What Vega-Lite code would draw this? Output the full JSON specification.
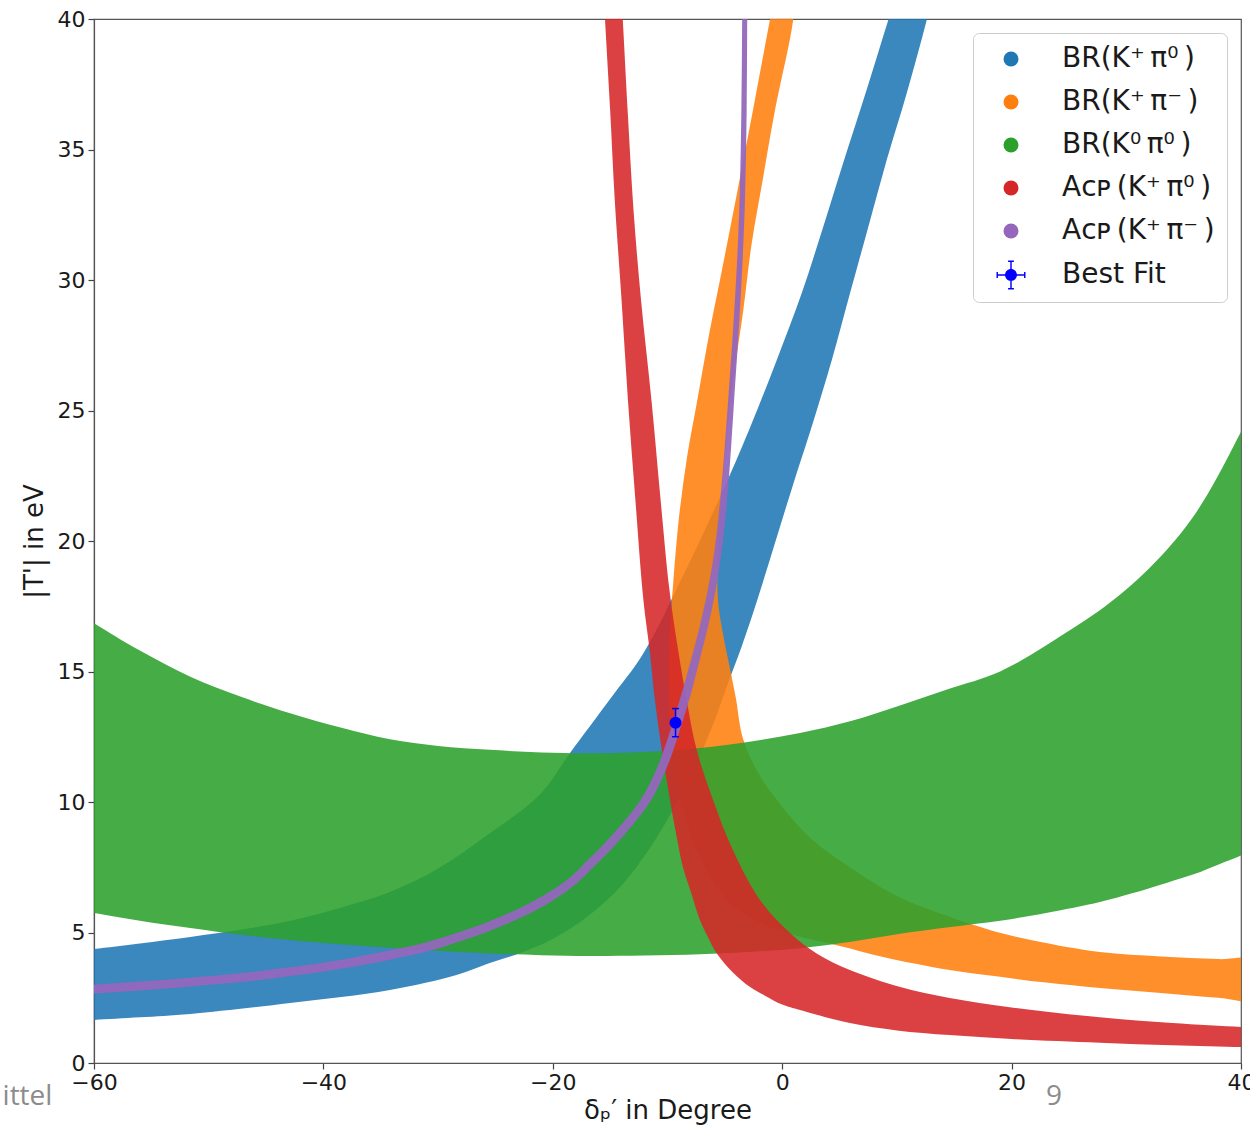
{
  "$schema": "https://vega.github.io/schema/vega-lite/v6.json",
  "width": 1147,
  "height": 1044,
  "autosize": {"type": "none"},
  "padding": {"left": 94, "top": 19, "right": 9, "bottom": 64},
  "background": "white",
  "config": {
    "view": {"stroke": "#555555", "strokeWidth": 1.2},
    "font": "DejaVu Sans",
    "axis": {
      "labelFont": "DejaVu Sans", "labelFontSize": 22, "labelColor": "#1a1a1a",
      "titleFont": "DejaVu Sans", "titleFontSize": 26, "titleFontWeight": "normal", "titleColor": "#1a1a1a",
      "tickSize": 6, "tickColor": "#444444", "tickWidth": 1.2,
      "domainColor": "#555555", "domainWidth": 1.2, "grid": false, "labelPadding": 3
    },
    "axisX": {"titlePadding": 4},
    "axisY": {"titlePadding": 10}
  },
  "datasets": {
    "blue": [
      {"i":1,"x":-62,"y":4.28},{"i":2,"x":-60,"y":4.37},{"i":3,"x":-56,"y":4.58},{"i":4,"x":-51.6,"y":4.83},
      {"i":5,"x":-47,"y":5.12},{"i":6,"x":-42.9,"y":5.45},{"i":7,"x":-38.5,"y":5.95},{"i":8,"x":-34.2,"y":6.55},
      {"i":9,"x":-30,"y":7.45},{"i":10,"x":-25.5,"y":8.8},{"i":11,"x":-21.1,"y":10.3},{"i":12,"x":-18.5,"y":11.88},
      {"i":13,"x":-15,"y":13.95},{"i":14,"x":-12.1,"y":15.7},{"i":15,"x":-8.5,"y":18.8},{"i":16,"x":-4.84,"y":22.25},
      {"i":17,"x":-2.66,"y":24.5},{"i":18,"x":-0.48,"y":26.93},{"i":19,"x":1.7,"y":29.49},{"i":20,"x":3.58,"y":32.04},
      {"i":21,"x":5.33,"y":34.5},{"i":22,"x":7.37,"y":37.3},{"i":23,"x":9.25,"y":39.96},{"i":24,"x":11,"y":42.4},
      {"i":25,"x":13.9,"y":42.4},{"i":26,"x":12.6,"y":39.96},{"i":27,"x":10.85,"y":37.15},{"i":28,"x":9.11,"y":34.6},
      {"i":29,"x":7.51,"y":32.04},{"i":30,"x":5.91,"y":29.49},{"i":31,"x":4.32,"y":26.93},{"i":32,"x":2.57,"y":24.38},
      {"i":33,"x":0.94,"y":22.15},{"i":34,"x":-2.2,"y":17.7},{"i":35,"x":-3.5,"y":16.0},{"i":36,"x":-4.6,"y":14.7},
      {"i":37,"x":-6,"y":13.0},{"i":38,"x":-8,"y":11.0},{"i":39,"x":-11,"y":8.6},{"i":40,"x":-14,"y":6.8},
      {"i":41,"x":-17,"y":5.6},{"i":42,"x":-20,"y":4.75},{"i":43,"x":-22.6,"y":4.25},{"i":44,"x":-25.5,"y":3.83},
      {"i":45,"x":-28.4,"y":3.37},{"i":46,"x":-34.2,"y":2.8},{"i":47,"x":-42.9,"y":2.3},{"i":48,"x":-51.6,"y":1.88},
      {"i":49,"x":-56,"y":1.75},{"i":50,"x":-60,"y":1.65},{"i":51,"x":-62,"y":1.6}
    ],
    "orange": [
      {"i":1,"x":1.3,"y":42},{"i":2,"x":0.97,"y":40},{"i":3,"x":-0.63,"y":36.5},{"i":4,"x":-1.65,"y":33.96},
      {"i":5,"x":-2.66,"y":31.4},{"i":6,"x":-3.39,"y":28.85},{"i":7,"x":-4.5,"y":25.4},{"i":8,"x":-5.3,"y":21.6},
      {"i":9,"x":-5.6,"y":19.5},{"i":10,"x":-5.6,"y":17.74},{"i":11,"x":-5.1,"y":16.3},{"i":12,"x":-4.5,"y":15.0},
      {"i":13,"x":-4.05,"y":14.0},{"i":14,"x":-3.4,"y":12.4},{"i":15,"x":-2.0,"y":11.05},{"i":16,"x":-0.45,"y":10.08},
      {"i":17,"x":2.5,"y":8.6},{"i":18,"x":5.9,"y":7.5},{"i":19,"x":10,"y":6.4},{"i":20,"x":14.6,"y":5.6},
      {"i":21,"x":18.1,"y":5.1},{"i":22,"x":22,"y":4.68},{"i":23,"x":27.7,"y":4.25},{"i":24,"x":33,"y":4.08},
      {"i":25,"x":38,"y":3.98},{"i":26,"x":42,"y":3.92},
      {"i":27,"x":42,"y":2.42},{"i":28,"x":38,"y":2.5},{"i":29,"x":33,"y":2.68},{"i":30,"x":27.7,"y":2.87},
      {"i":31,"x":23,"y":3.08},{"i":32,"x":19,"y":3.3},{"i":33,"x":14.6,"y":3.56},{"i":34,"x":8.8,"y":4.06},
      {"i":35,"x":5.3,"y":4.45},{"i":36,"x":0.7,"y":4.95},{"i":37,"x":-3,"y":5.6},{"i":38,"x":-5.5,"y":6.6},
      {"i":39,"x":-7.5,"y":8.2},{"i":40,"x":-8.8,"y":10},{"i":41,"x":-9.6,"y":12},{"i":42,"x":-9.9,"y":14.5},
      {"i":43,"x":-9.8,"y":16.5},{"i":44,"x":-9.5,"y":18.4},{"i":45,"x":-9.0,"y":20.9},{"i":46,"x":-8.3,"y":23.2},
      {"i":47,"x":-7.4,"y":25.4},{"i":48,"x":-6.35,"y":27.97},{"i":49,"x":-5.2,"y":30.5},{"i":50,"x":-3.95,"y":33.3},
      {"i":51,"x":-2.55,"y":36.5},{"i":52,"x":-1.06,"y":40},{"i":53,"x":-0.2,"y":42}
    ],
    "green": [
      {"i":1,"x":-62,"y":17.4},{"i":2,"x":-60,"y":16.85},{"i":3,"x":-56,"y":15.8},{"i":4,"x":-51.6,"y":14.8},
      {"i":5,"x":-47,"y":14.0},{"i":6,"x":-42.9,"y":13.4},{"i":7,"x":-38.5,"y":12.85},{"i":8,"x":-34.2,"y":12.4},
      {"i":9,"x":-30,"y":12.15},{"i":10,"x":-25.5,"y":12.0},{"i":11,"x":-21,"y":11.9},{"i":12,"x":-16.8,"y":11.87},
      {"i":13,"x":-12,"y":11.92},{"i":14,"x":-7.17,"y":12.07},{"i":15,"x":-3,"y":12.3},{"i":16,"x":1.55,"y":12.64},
      {"i":17,"x":6,"y":13.1},{"i":18,"x":10.27,"y":13.7},{"i":19,"x":14.5,"y":14.33},{"i":20,"x":19,"y":15.0},
      {"i":21,"x":24.8,"y":16.5},{"i":22,"x":29.2,"y":17.85},{"i":23,"x":33.5,"y":19.65},{"i":24,"x":36.4,"y":21.3},
      {"i":25,"x":39.9,"y":24.1},{"i":26,"x":41,"y":25.1},
      {"i":27,"x":41,"y":8.15},{"i":28,"x":40,"y":7.95},{"i":29,"x":38,"y":7.6},{"i":30,"x":36,"y":7.25},
      {"i":31,"x":33.5,"y":6.9},{"i":32,"x":30.5,"y":6.5},{"i":33,"x":27.7,"y":6.17},{"i":34,"x":23,"y":5.75},
      {"i":35,"x":19,"y":5.45},{"i":36,"x":14.5,"y":5.2},{"i":37,"x":10.27,"y":4.95},{"i":38,"x":6,"y":4.65},
      {"i":39,"x":1.55,"y":4.4},{"i":40,"x":-3,"y":4.25},{"i":41,"x":-7.17,"y":4.17},{"i":42,"x":-12,"y":4.12},
      {"i":43,"x":-16.8,"y":4.1},{"i":44,"x":-21,"y":4.13},{"i":45,"x":-25.5,"y":4.2},{"i":46,"x":-30,"y":4.3},
      {"i":47,"x":-34.2,"y":4.42},{"i":48,"x":-38.5,"y":4.55},{"i":49,"x":-42.9,"y":4.71},{"i":50,"x":-47,"y":4.9},
      {"i":51,"x":-51.6,"y":5.17},{"i":52,"x":-56,"y":5.45},{"i":53,"x":-60,"y":5.75},{"i":54,"x":-62,"y":5.9}
    ],
    "red": [
      {"i":1,"x":-14.15,"y":42},{"i":2,"x":-13.9,"y":40},{"i":3,"x":-13.45,"y":36.3},{"i":4,"x":-12.95,"y":32.6},
      {"i":5,"x":-12.3,"y":29.2},{"i":6,"x":-11.4,"y":25.4},{"i":7,"x":-10.6,"y":21.57},{"i":8,"x":-9.85,"y":18.2},
      {"i":9,"x":-9.1,"y":15.9},{"i":10,"x":-8.33,"y":13.9},{"i":11,"x":-7.46,"y":12.0},{"i":12,"x":-6.03,"y":10.08},
      {"i":13,"x":-4.3,"y":8.16},{"i":14,"x":-1.94,"y":6.25},{"i":15,"x":0.68,"y":4.98},{"i":16,"x":3.0,"y":4.2},
      {"i":17,"x":5.9,"y":3.56},{"i":18,"x":10.3,"y":2.91},{"i":19,"x":14.6,"y":2.49},{"i":20,"x":20,"y":2.13},
      {"i":21,"x":27.7,"y":1.75},{"i":22,"x":34,"y":1.53},{"i":23,"x":40,"y":1.38},{"i":24,"x":42,"y":1.34},
      {"i":25,"x":42,"y":0.58},{"i":26,"x":40,"y":0.61},{"i":27,"x":34,"y":0.68},{"i":28,"x":27.7,"y":0.78},
      {"i":29,"x":20,"y":0.92},{"i":30,"x":14.6,"y":1.07},{"i":31,"x":10,"y":1.25},{"i":32,"x":5.9,"y":1.53},
      {"i":33,"x":1.55,"y":2.03},{"i":34,"x":0,"y":2.24},{"i":35,"x":-1.5,"y":2.58},{"i":36,"x":-2.8,"y":2.91},
      {"i":37,"x":-4.3,"y":3.47},{"i":38,"x":-5.7,"y":4.2},{"i":39,"x":-6.5,"y":4.85},{"i":40,"x":-7.17,"y":5.48},
      {"i":41,"x":-8.0,"y":6.6},{"i":42,"x":-8.65,"y":7.5},{"i":43,"x":-9.3,"y":8.9},{"i":44,"x":-9.78,"y":10.08},
      {"i":45,"x":-10.5,"y":12.0},{"i":46,"x":-11.1,"y":13.9},{"i":47,"x":-11.55,"y":15.8},{"i":48,"x":-12.1,"y":17.74},
      {"i":49,"x":-12.8,"y":21.57},{"i":50,"x":-13.45,"y":25.4},{"i":51,"x":-14.0,"y":29.2},{"i":52,"x":-14.6,"y":33.07},
      {"i":53,"x":-15.0,"y":36.5},{"i":54,"x":-15.45,"y":40},{"i":55,"x":-15.7,"y":42}
    ],
    "purple": [
      {"i":1,"x":-62.02,"y":2.95},{"i":2,"x":-60.02,"y":3.0},{"i":3,"x":-56.02,"y":3.12},{"i":4,"x":-51.62,"y":3.27},
      {"i":5,"x":-47.04,"y":3.45},{"i":6,"x":-42.95,"y":3.67},{"i":7,"x":-38.56,"y":3.95},{"i":8,"x":-34.28,"y":4.31},
      {"i":9,"x":-31.1,"y":4.62},{"i":10,"x":-28.53,"y":4.96},{"i":11,"x":-25.64,"y":5.41},{"i":12,"x":-22.77,"y":5.96},
      {"i":13,"x":-20.5,"y":6.5},{"i":14,"x":-18.45,"y":7.13},{"i":15,"x":-17.08,"y":7.72},{"i":16,"x":-15.28,"y":8.52},
      {"i":17,"x":-13.6,"y":9.36},{"i":18,"x":-12.33,"y":10.1},{"i":19,"x":-11.35,"y":10.88},{"i":20,"x":-10.47,"y":11.81},
      {"i":21,"x":-9.67,"y":12.85},{"i":22,"x":-8.78,"y":14.15},{"i":23,"x":-7.95,"y":15.44},{"i":24,"x":-7.24,"y":16.64},
      {"i":25,"x":-6.53,"y":18.03},{"i":26,"x":-5.91,"y":19.62},{"i":27,"x":-5.4,"y":21.61},{"i":28,"x":-5.03,"y":23.5},
      {"i":29,"x":-4.71,"y":25.4},{"i":30,"x":-4.3,"y":28},{"i":31,"x":-3.96,"y":30.5},{"i":32,"x":-3.72,"y":33},
      {"i":33,"x":-3.56,"y":36.5},{"i":34,"x":-3.49,"y":40},{"i":35,"x":-3.47,"y":42},
      {"i":36,"x":-3.03,"y":42},{"i":37,"x":-3.05,"y":40},{"i":38,"x":-3.1,"y":36.5},{"i":39,"x":-3.25,"y":33},
      {"i":40,"x":-3.48,"y":30.5},{"i":41,"x":-3.8,"y":28},{"i":42,"x":-4.19,"y":25.4},{"i":43,"x":-4.47,"y":23.5},
      {"i":44,"x":-4.8,"y":21.59},{"i":45,"x":-5.29,"y":19.58},{"i":46,"x":-5.87,"y":17.97},{"i":47,"x":-6.56,"y":16.56},
      {"i":48,"x":-7.25,"y":15.36},{"i":49,"x":-8.02,"y":14.05},{"i":50,"x":-8.93,"y":12.75},{"i":51,"x":-9.73,"y":11.69},
      {"i":52,"x":-10.65,"y":10.72},{"i":53,"x":-11.67,"y":9.9},{"i":54,"x":-13.0,"y":9.14},{"i":55,"x":-14.72,"y":8.28},
      {"i":56,"x":-16.52,"y":7.48},{"i":57,"x":-17.95,"y":6.87},{"i":58,"x":-20.1,"y":6.2},{"i":59,"x":-22.43,"y":5.64},
      {"i":60,"x":-25.36,"y":5.09},{"i":61,"x":-28.27,"y":4.64},{"i":62,"x":-30.9,"y":4.28},{"i":63,"x":-34.12,"y":3.97},
      {"i":64,"x":-38.44,"y":3.61},{"i":65,"x":-42.85,"y":3.33},{"i":66,"x":-46.96,"y":3.11},{"i":67,"x":-51.58,"y":2.93},
      {"i":68,"x":-55.98,"y":2.78},{"i":69,"x":-59.98,"y":2.66},{"i":70,"x":-61.98,"y":2.61}
    ],
    "fit": [
      {"s":"Best Fit","x":-9.3,"y":13.04,"xLow":-9.55,"xHigh":-9.05,"yLow":12.5,"yHigh":13.58}
    ],
    "footer": [
      {"t":"ittel","x":-65.8,"y":-1.32},
      {"t":"9","x":23.7,"y":-1.32}
    ]
  },
  "encoding": {
    "x": {"field": "x", "type": "quantitative",
      "scale": {"domain": [-60, 40], "nice": false, "zero": false},
      "axis": {"values": [-60, -40, -20, 0, 20, 40], "title": "δₚ′ in Degree", "labelFlush": false, "labelOverlap": false}},
    "y": {"field": "y", "type": "quantitative",
      "scale": {"domain": [0, 40], "nice": false, "zero": false},
      "axis": {"values": [0, 5, 10, 15, 20, 25, 30, 35, 40], "title": "|T'| in eV", "labelFlush": false, "labelOverlap": false}}
  },
  "layer": [
    {"data": {"name": "blue"},
     "mark": {"type": "line", "filled": true, "color": "#1f77b4", "opacity": 0.88, "strokeWidth": 0, "clip": true, "interpolate": "catmull-rom"},
     "encoding": {"order": {"field": "i", "type": "quantitative"}}},
    {"data": {"name": "orange"},
     "mark": {"type": "line", "filled": true, "color": "#ff7f0e", "opacity": 0.88, "strokeWidth": 0, "clip": true, "interpolate": "catmull-rom"},
     "encoding": {"order": {"field": "i", "type": "quantitative"}}},
    {"data": {"name": "green"},
     "mark": {"type": "line", "filled": true, "color": "#2ca02c", "opacity": 0.88, "strokeWidth": 0, "clip": true, "interpolate": "catmull-rom"},
     "encoding": {"order": {"field": "i", "type": "quantitative"}}},
    {"data": {"name": "red"},
     "mark": {"type": "line", "filled": true, "color": "#d62728", "opacity": 0.88, "strokeWidth": 0, "clip": true, "interpolate": "catmull-rom"},
     "encoding": {"order": {"field": "i", "type": "quantitative"}}},
    {"data": {"name": "purple"},
     "mark": {"type": "line", "filled": true, "color": "#9467bd", "opacity": 0.95, "strokeWidth": 0, "clip": true, "interpolate": "catmull-rom"},
     "encoding": {"order": {"field": "i", "type": "quantitative"}}},
    {"data": {"name": "fit"},
     "mark": {"type": "rule", "color": "#0000ff", "strokeWidth": 1.5},
     "encoding": {"y": {"field": "yLow", "type": "quantitative", "title": "|T'| in eV"}, "y2": {"field": "yHigh"}}},
    {"data": {"name": "fit"},
     "mark": {"type": "rule", "color": "#0000ff", "strokeWidth": 1.5},
     "encoding": {"x": {"field": "xLow", "type": "quantitative", "title": "δₚ′ in Degree"}, "x2": {"field": "xHigh"}}},
    {"data": {"name": "fit"},
     "mark": {"type": "tick", "orient": "horizontal", "color": "#0000ff", "size": 7, "thickness": 1.5, "opacity": 1},
     "encoding": {"y": {"field": "yLow", "type": "quantitative", "title": "|T'| in eV"}}},
    {"data": {"name": "fit"},
     "mark": {"type": "tick", "orient": "horizontal", "color": "#0000ff", "size": 7, "thickness": 1.5, "opacity": 1},
     "encoding": {"y": {"field": "yHigh", "type": "quantitative", "title": "|T'| in eV"}}},
    {"data": {"name": "fit"},
     "mark": {"type": "circle", "size": 144, "opacity": 1},
     "encoding": {
       "color": {"field": "s", "type": "nominal",
         "scale": {"domain": ["BR(K⁺\u2009π⁰\u2009)", "BR(K⁺\u2009π⁻\u2009)", "BR(K⁰\u2009π⁰\u2009)", "Aᴄᴘ\u2009(K⁺\u2009π⁰\u2009)", "Aᴄᴘ\u2009(K⁺\u2009π⁻\u2009)", "Best Fit"],
                   "range": ["#1f77b4", "#ff7f0e", "#2ca02c", "#d62728", "#9467bd", "#0000ff"]},
         "legend": {
           "title": null, "orient": "top-right", "offset": 14, "padding": 12,
           "fillColor": "white", "strokeColor": "#cccccc", "cornerRadius": 6,
           "labelFont": "DejaVu Sans", "labelFontSize": 28, "labelColor": "#1a1a1a", "labelLimit": 400,
           "symbolType": "circle", "symbolSize": 225, "symbolStrokeWidth": 0, "symbolOpacity": 1,
           "rowPadding": 15, "symbolOffset": 12, "labelOffset": 37,
           "encode": {"symbols": {"update": {
             "shape": {"signal": "datum.value === 'Best Fit' ? 'M-1,-0.05H1V0.05H-1Z M-0.05,-1H0.05V1H-0.05Z M-1,-0.2H-0.9V0.2H-1Z M0.9,-0.2H1V0.2H0.9Z M-0.2,-1H0.2V-0.9H-0.2Z M-0.2,0.9H0.2V1H-0.2Z M0.41,0A0.41,0.41,0,1,1,-0.41,0A0.41,0.41,0,1,1,0.41,0Z' : 'circle'"},
             "size": {"signal": "datum.value === 'Best Fit' ? 841 : 225"}
           }}}
         }}
     }},
    {"data": {"name": "footer"},
     "mark": {"type": "text", "font": "Open Sans", "fontSize": 28, "color": "#8c8c8c", "align": "center", "baseline": "middle", "clip": false},
     "encoding": {"text": {"field": "t"}}}
  ]
}
